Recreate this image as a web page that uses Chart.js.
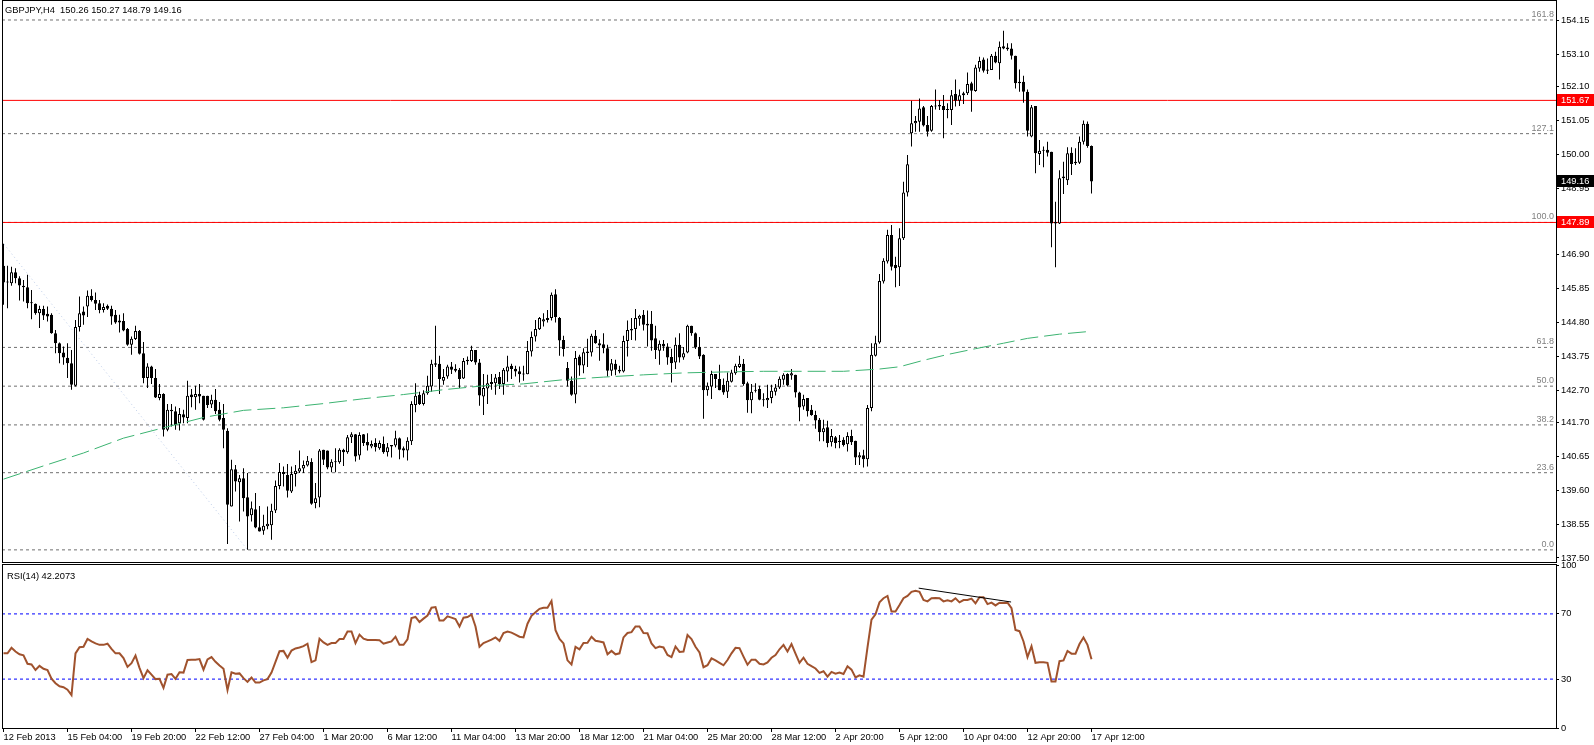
<!DOCTYPE html>
<html lang="en">
<head>
<meta charset="UTF-8">
<title>GBPJPY,H4</title>
<script src="https://cdn.jsdelivr.net/npm/chart.js"></script>
<style>
  body { margin: 0; background: #fff; width: 1594px; height: 745px; position: relative; overflow: hidden; }
  canvas { position: absolute; left: 0; }
  #main { top: 0; }
  #rsi { top: 554px; }
  .txt { position: absolute; z-index: 5; font: 9.3px "Liberation Sans", Arial, sans-serif; line-height: 14px; color: #000; white-space: pre; }
</style>
</head>
<body>
<canvas id="main" width="1594" height="564"></canvas>
<canvas id="rsi" width="1594" height="191"></canvas>
<div class="txt" style="left:5px; top:3px;">GBPJPY,H4  150.26 150.27 148.79 149.16</div>
<div class="txt" style="left:7px; top:569px;">RSI(14) 42.2073</div>

<script>
  // H4 bars (one value per bar)
  const openP = [
    146.55,146.03,146.01,146.35,146.16,145.93,145.88,145.39,145.37,145.08,
    145.21,145.06,145.03,144.46,144.15,143.86,143.70,143.53,142.83,144.65,
    145.13,145.29,145.62,145.49,145.39,145.18,145.31,145.22,145.03,144.85,
    144.84,144.59,144.10,144.28,144.53,143.84,143.07,143.43,143.07,142.45,
    142.58,141.47,142.09,142.04,141.67,141.95,141.83,142.56,142.48,142.58,
    142.52,142.52,142.25,142.40,142.09,141.83,141.44,139.09,140.25,139.84,
    139.97,139.38,138.82,139.01,138.45,138.34,138.48,138.51,138.97,139.73,
    140.16,140.07,139.56,140.10,140.18,140.27,140.36,140.47,139.20,139.37,
    140.85,140.83,140.30,140.46,140.46,140.85,140.77,141.24,141.33,140.67,
    141.33,141.09,140.95,141.06,140.90,141.03,140.77,141.00,140.98,141.21,
    140.90,140.83,141.11,142.24,142.55,142.27,142.60,142.81,143.53,143.51,
    142.99,143.12,143.43,143.36,143.33,143.06,143.64,143.60,143.94,143.55,
    142.50,142.75,142.89,142.91,143.10,142.89,143.27,143.45,143.36,143.28,
    143.20,143.19,143.89,144.36,144.58,144.82,144.93,144.93,145.67,144.93,
    144.25,143.38,142.99,142.56,143.74,143.46,143.85,143.86,144.38,144.15,
    144.12,143.99,143.30,143.51,143.33,143.27,144.22,144.54,144.59,144.91,
    145.03,144.75,144.75,144.30,143.92,144.13,144.05,143.72,143.55,144.10,
    143.71,143.86,144.69,144.46,144.03,143.79,142.69,142.81,143.20,143.04,
    142.86,142.65,142.96,143.22,143.41,143.51,142.91,142.38,142.68,142.73,
    142.40,142.38,142.45,142.65,142.78,143.02,143.20,143.15,143.17,142.62,
    142.19,142.45,142.09,141.93,141.78,141.39,141.55,141.08,141.24,141.13,
    141.16,141.02,141.28,141.13,140.61,140.68,140.56,142.14,143.76,144.17,
    146.06,146.68,147.50,146.57,146.50,147.40,148.82,150.65,150.96,151.01,
    151.46,150.91,150.73,151.50,151.53,151.50,151.40,151.37,151.87,151.66,
    151.83,151.89,152.20,151.96,152.66,152.94,152.63,152.61,153.05,152.82,
    153.35,153.31,153.28,153.05,152.25,152.25,151.94,150.55,151.50,150.01,
    150.11,150.14,150.08,147.86,147.86,149.26,149.20,150.05,149.77,149.74,
    150.39,150.95,150.26
  ];
  const highP = [
    147.23,146.55,146.52,146.47,146.22,146.11,146.27,145.80,145.38,145.31,
    145.31,145.29,145.08,144.56,144.17,144.05,144.15,143.94,144.87,145.60,
    145.29,145.78,145.82,145.72,145.49,145.39,145.35,145.31,145.18,145.03,
    145.08,144.62,144.36,144.69,144.56,144.19,143.53,143.45,143.35,142.89,
    142.60,142.27,142.27,142.19,142.14,142.09,142.99,142.73,142.83,142.89,
    142.52,142.52,142.55,142.73,142.33,142.27,141.52,140.54,140.38,140.07,
    140.28,140.13,139.25,139.51,139.11,138.84,139.09,139.18,139.90,140.44,
    140.33,140.41,140.33,140.38,140.83,140.52,140.66,140.59,139.82,140.87,
    140.85,140.83,140.56,140.90,140.90,140.88,141.31,141.39,141.34,141.39,
    141.34,141.36,141.14,141.21,141.14,141.26,141.06,141.00,141.44,141.23,
    140.95,141.24,142.35,142.91,142.65,142.69,143.14,143.64,144.69,143.76,
    143.35,143.48,143.57,143.50,143.38,143.69,143.74,144.07,143.94,143.66,
    143.20,143.17,143.20,143.20,143.26,143.38,143.76,143.51,143.45,143.43,
    143.45,144.22,144.51,144.87,144.96,145.08,145.18,145.72,145.82,144.96,
    144.38,143.57,143.12,143.91,143.79,143.99,144.29,144.44,144.56,144.27,
    144.46,144.10,143.66,143.64,143.45,144.38,144.85,144.93,145.21,145.03,
    145.18,145.16,145.15,144.69,144.23,144.25,144.15,143.98,144.33,144.46,
    144.03,144.72,144.69,144.48,144.34,143.81,142.93,143.30,143.20,143.48,
    143.06,143.24,143.33,143.51,143.76,143.66,142.96,142.89,142.91,142.83,
    142.60,142.86,142.86,142.89,143.12,143.22,143.22,143.35,143.17,142.65,
    142.55,142.45,142.24,142.06,141.83,141.78,141.75,141.49,141.28,141.31,
    141.24,141.39,141.47,141.13,140.77,140.85,142.24,144.15,144.38,146.29,
    146.78,147.66,147.81,146.83,147.71,149.15,149.98,151.66,151.19,151.73,
    151.50,151.19,151.53,152.01,151.68,151.84,151.58,151.99,152.32,152.01,
    151.94,152.53,152.25,152.77,153.02,153.00,152.97,153.11,153.18,153.49,
    153.83,153.44,153.44,153.05,152.63,152.43,152.01,151.53,151.50,150.44,
    150.24,150.39,150.08,148.53,149.51,149.77,150.22,150.22,150.19,150.55,
    151.05,151.02,150.27
  ];
  const lowP = [
    145.34,145.23,145.93,146.01,145.47,145.44,145.23,144.89,145.03,144.62,
    144.87,144.82,144.44,143.84,143.53,143.48,143.07,142.71,142.81,144.51,
    144.72,144.96,145.44,145.18,145.08,145.10,145.18,144.72,144.75,144.48,
    144.52,144.07,143.79,144.25,143.80,142.91,142.76,142.89,142.45,142.38,
    141.26,141.42,141.57,141.47,141.45,141.67,141.67,142.17,142.09,142.29,
    141.76,142.14,142.14,141.96,141.73,140.90,137.93,139.09,139.56,138.63,
    138.94,137.75,138.63,138.42,138.32,138.22,138.39,138.06,138.89,139.63,
    139.71,139.37,139.51,139.71,140.13,140.13,140.33,139.15,139.04,139.07,
    140.38,140.25,140.15,140.15,140.42,140.35,140.73,141.06,140.49,140.54,
    140.97,140.83,140.90,140.80,140.85,140.73,140.64,140.61,140.93,140.56,
    140.61,140.52,141.00,142.01,142.24,142.22,142.55,142.65,143.41,142.58,
    142.86,143.05,143.20,143.25,142.76,143.04,143.48,143.57,143.48,142.21,
    141.93,142.27,142.71,142.55,142.73,142.55,142.96,143.04,143.12,142.93,
    142.99,143.19,143.74,144.20,144.56,144.67,144.79,144.85,144.79,143.76,
    143.74,142.81,142.52,142.29,143.14,143.22,143.41,143.74,144.13,143.61,
    143.84,143.12,143.14,143.16,143.22,143.24,143.74,144.25,144.23,144.69,
    144.54,144.05,143.92,143.66,143.48,143.92,143.48,142.93,143.35,143.55,
    143.64,143.84,144.38,143.97,143.66,141.81,142.52,142.42,142.76,142.69,
    142.55,142.45,142.93,143.17,143.38,142.83,142.00,141.98,142.62,142.38,
    142.19,142.14,142.29,142.53,142.73,142.86,142.81,143.02,142.47,141.73,
    142.09,141.88,141.90,141.50,141.11,141.11,140.93,140.95,140.90,140.90,
    140.95,140.80,141.00,140.38,140.38,140.30,140.33,142.04,143.74,144.13,
    146.00,146.62,146.40,145.88,145.92,147.35,148.69,150.24,150.70,150.70,
    150.86,150.55,150.70,151.39,151.37,150.50,151.12,150.91,151.48,151.50,
    151.56,151.84,151.32,151.94,152.56,152.53,152.49,152.61,152.82,152.32,
    153.25,153.21,152.94,152.04,151.94,151.60,150.55,150.53,149.41,149.67,
    149.60,149.93,147.12,146.50,147.84,148.77,149.05,149.36,149.67,149.70,
    150.30,150.20,148.79
  ];
  const closeP = [
    146.03,146.06,146.35,146.16,145.94,145.88,145.39,145.41,145.08,145.21,
    145.01,144.98,144.46,144.15,143.84,143.71,143.53,142.86,144.65,145.08,
    145.01,145.62,145.49,145.37,145.18,145.27,145.22,144.98,144.79,144.79,
    144.54,144.10,144.29,144.53,143.82,143.07,143.43,143.07,142.47,142.58,
    141.47,142.09,142.04,141.62,141.96,141.85,142.52,142.48,142.58,142.50,
    141.78,142.24,142.40,142.04,141.78,141.47,139.15,140.25,139.87,139.97,
    139.35,138.78,139.04,138.44,138.32,138.50,138.56,138.96,139.73,140.16,
    140.10,139.58,140.10,140.20,140.28,140.38,140.51,139.18,139.35,140.83,
    140.54,140.30,140.48,140.48,140.85,140.77,141.24,141.33,140.64,141.31,
    141.06,140.98,141.03,140.93,141.06,140.77,140.93,140.95,141.21,140.85,
    140.83,141.13,142.27,142.52,142.27,142.60,142.83,143.51,143.48,143.04,
    143.10,143.43,143.33,143.30,143.04,143.60,143.59,143.94,143.55,142.53,
    142.76,142.91,142.95,143.09,142.89,143.33,143.43,143.35,143.27,143.19,
    143.18,143.91,144.34,144.59,144.93,144.89,144.87,145.65,144.96,144.23,
    143.97,142.99,142.55,143.69,143.46,143.87,143.89,144.38,144.15,144.08,
    143.99,143.30,143.53,143.33,143.27,144.22,144.56,144.59,144.93,145.00,
    144.72,144.70,144.23,143.94,144.13,144.05,143.71,143.53,144.10,143.71,
    143.84,144.69,144.46,144.02,143.74,142.69,142.83,143.20,143.04,142.69,
    142.62,142.99,143.24,143.45,143.51,142.89,142.38,142.65,142.70,142.40,
    142.38,142.45,142.68,142.78,143.05,143.17,142.84,143.22,142.62,142.16,
    142.42,142.04,141.93,141.76,141.39,141.52,141.06,141.28,141.06,141.09,
    141.00,141.28,141.08,140.61,140.68,140.56,142.14,143.79,144.15,146.08,
    146.70,147.50,146.52,146.47,147.40,148.82,149.69,150.96,151.03,151.42,
    150.89,150.70,151.50,151.48,151.48,151.37,151.37,151.83,151.66,151.83,
    151.89,152.18,151.97,152.69,152.89,152.59,152.59,153.05,152.84,153.33,
    153.28,153.25,153.05,152.20,152.20,151.94,150.73,151.46,150.03,150.11,
    150.13,150.05,147.86,147.90,149.26,149.31,150.03,149.70,149.72,150.39,
    150.95,150.26,149.16
  ];
  const rsiValues = [
    45.8,45.8,49.2,46.9,45.2,44.6,39.4,39.0,35.6,38.1,
    36.3,35.6,30.2,27.5,25.6,25.0,23.5,20.2,45.8,49.6,
    49.8,54.6,53.1,51.9,51.0,51.0,51.7,48.5,45.8,45.8,
    42.9,37.5,39.8,44.4,36.9,30.6,35.4,32.7,30.0,30.2,
    24.6,32.7,33.1,30.2,34.2,34.0,41.7,41.9,41.9,42.3,
    35.8,42.1,43.5,40.6,38.3,36.3,23.3,34.2,33.3,33.5,
    30.6,28.3,31.0,27.9,27.9,29.2,30.0,34.0,40.6,47.1,
    47.3,43.1,47.5,48.8,49.4,50.2,51.7,40.4,41.5,54.8,
    52.5,51.0,52.1,52.1,54.6,54.6,59.2,59.2,52.1,57.3,
    54.8,54.0,54.0,54.0,53.8,51.7,52.5,53.1,56.0,51.0,
    51.0,54.4,67.5,68.1,65.0,67.1,69.0,73.8,74.2,66.0,
    66.0,68.5,67.7,66.9,62.3,67.7,68.1,69.6,62.3,49.8,
    52.1,53.1,54.2,55.6,53.5,58.3,59.2,58.5,57.3,56.0,
    55.6,64.0,68.8,71.0,73.1,73.8,73.8,77.9,60.0,54.6,
    51.9,41.5,39.0,49.8,48.3,52.1,52.3,56.0,53.5,53.1,
    52.5,45.2,47.3,45.2,45.8,55.6,58.3,58.8,62.3,62.3,
    58.3,58.1,51.9,49.0,50.0,49.4,44.8,43.5,50.0,46.7,
    46.9,57.1,54.6,49.8,46.3,37.3,38.5,42.7,41.5,40.0,
    38.5,41.7,45.8,49.2,49.0,43.8,38.8,41.9,41.9,39.4,
    39.0,40.2,43.1,44.8,48.3,51.0,46.9,51.5,45.6,40.0,
    43.1,39.4,37.9,36.5,33.8,34.8,31.5,34.4,33.3,34.0,
    33.1,37.9,35.8,31.0,32.3,31.5,49.4,66.5,69.8,77.1,
    79.6,81.0,71.5,71.5,75.4,79.6,81.0,83.5,84.2,83.5,
    78.5,77.7,79.6,79.8,79.6,77.7,78.3,77.7,79.6,77.1,
    78.5,78.5,79.4,76.5,80.2,80.2,76.0,76.9,75.2,76.9,
    76.7,76.9,73.5,60.2,59.4,53.1,43.5,50.2,40.0,40.4,
    40.4,40.0,28.5,28.5,41.0,41.5,47.3,45.6,45.6,51.5,
    55.5,51.0,42.2
  ];

  // moving average, read at some bars
  const maBars   = [0, 10, 20, 30, 40, 50, 60, 70, 80, 90, 100, 110, 120, 130, 140, 150, 160, 170, 180, 190, 200, 210, 219, 224, 230, 236, 243, 250, 256, 264, 272];
  const maValues = [139.94, 140.35, 140.75, 141.21, 141.53, 141.85, 142.07, 142.15, 142.28, 142.43, 142.56, 142.71, 142.83, 142.89, 143.02, 143.10, 143.17, 143.23, 143.26, 143.28, 143.28, 143.28, 143.35, 143.42, 143.62, 143.80, 143.98, 144.15, 144.30, 144.43, 144.52];

  const dateLabels = ['12 Feb 2013', '15 Feb 04:00', '19 Feb 20:00', '22 Feb 12:00', '27 Feb 04:00', '1 Mar 20:00', '6 Mar 12:00', '11 Mar 04:00', '13 Mar 20:00', '18 Mar 12:00', '21 Mar 04:00', '25 Mar 20:00', '28 Mar 12:00', '2 Apr 20:00', '5 Apr 12:00', '10 Apr 04:00', '12 Apr 20:00', '17 Apr 12:00'];
  const dateTickBars = [0, 16, 32, 48, 64, 80, 96, 112, 128, 144, 160, 176, 192, 208, 224, 240, 256, 272];
  const priceTicks = [137.50, 138.55, 139.60, 140.65, 141.70, 142.70, 143.75, 144.80, 145.85, 146.90, 147.90, 148.95, 150.00, 151.05, 152.10, 153.10, 154.15];
  const rsiTicks = [0, 30, 70, 100];

  const fibNames  = ['0.0', '23.6', '38.2', '50.0', '61.8', '100.0', '127.1', '161.8'];
  const fibPrices = [137.75, 140.14, 141.62, 142.82, 144.02, 147.89, 150.64, 154.16];
  const fibTrend  = [[-4.2, 147.89], [61, 137.75]];
  const redLevels = [151.67, 147.89];
  const rsiLevels = [30, 70];
  const rsiTrend  = [[228.8, 85.8], [251.9, 77.3]];

  const FONT = '"Liberation Sans", Arial, sans-serif';
  const xMin = -0.375, xMax = 388.125;   // 4 px per bar
  const bars = closeP.map((c, i) => i);
  const hline = v => [{x: xMin, y: v}, {x: xMax, y: v}];

  // box around each plot area
  const frame = {
    id: 'frame',
    afterDraw(chart) {
      const {ctx, chartArea: a} = chart;
      ctx.save();
      ctx.strokeStyle = '#000';
      ctx.lineWidth = 1;
      ctx.strokeRect(a.left + 0.5, a.top - 0.5, a.right - a.left, a.bottom - a.top + 1);
      ctx.restore();
    }
  };

  // fibo level names + price boxes on the right scale
  const priceMarks = {
    id: 'priceMarks',
    afterDraw(chart) {
      const {ctx, chartArea: a, scales: {y}} = chart;
      ctx.save();
      ctx.font = '9px ' + FONT;
      ctx.fillStyle = '#808080';
      ctx.textAlign = 'right';
      ctx.textBaseline = 'bottom';
      fibPrices.forEach((p, k) => {
        ctx.fillText(fibNames[k], a.right - 2, Math.round(y.getPixelForValue(p)) - 1);
      });
      const boxes = redLevels.map(v => [v, '#ff0000']).concat([[closeP[closeP.length - 1], '#000']]);
      ctx.font = '9.3px ' + FONT;
      ctx.textAlign = 'left';
      ctx.textBaseline = 'middle';
      boxes.forEach(([v, col]) => {
        const py = Math.round(y.getPixelForValue(v));
        ctx.fillStyle = col;
        ctx.fillRect(a.right + 1, py - 6, 38, 12);
        ctx.fillStyle = '#fff';
        ctx.fillText(v.toFixed(2), a.right + 5, py + 0.5);
      });
      ctx.restore();
    }
  };

  const tickFont = {family: FONT, size: 9.3};
  // keep the plot area where it is: no extra room for end labels
  const noPad = s => { s.paddingTop = 0; s.paddingBottom = 0; };

  new Chart(document.getElementById('main'), {
    type: 'bar',
    data: {
      datasets: [
        ...fibPrices.map(p => ({type: 'line', data: hline(p), borderColor: '#707070', borderWidth: 1, borderDash: [3, 3], pointRadius: 0, order: 10})),
        ...redLevels.map(p => ({type: 'line', data: hline(p), borderColor: '#ff0000', borderWidth: 1, pointRadius: 0, order: 9})),
        {type: 'line', data: fibTrend.map(([x, y]) => ({x, y})), borderColor: 'rgba(170,190,225,0.8)', borderWidth: 1, borderDash: [1, 3], pointRadius: 0, order: 8},
        {
          data: bars.map(i => ({x: i, y: [lowP[i], highP[i]]})),
          backgroundColor: '#000', borderWidth: 0,
          barThickness: 1, grouped: false, inflateAmount: 0, order: 5
        },
        {
          data: bars.map(i => ({x: i, y: [openP[i], closeP[i]]})),
          backgroundColor: bars.map(i => closeP[i] >= openP[i] ? '#fff' : '#000'),
          borderColor: '#000', borderWidth: 1, borderSkipped: false,
          barThickness: 3, grouped: false, minBarLength: 1, inflateAmount: 0, order: 4
        },
        {type: 'line', data: maBars.map((b, k) => ({x: b, y: maValues[k]})), borderColor: '#3cb371', borderWidth: 1, borderDash: [18, 6], pointRadius: 0, order: 3}
      ]
    },
    options: {
      responsive: false,
      animation: false,
      events: [],
      layout: {padding: {left: 2, top: 1, right: 0, bottom: 2}},
      plugins: {legend: {display: false}, tooltip: {enabled: false}},
      scales: {
        x: {type: 'linear', min: xMin, max: xMax, offset: false, grid: {offset: false}, display: false},
        y: {
          type: 'linear', position: 'right', min: 137.374, max: 154.748,
          afterBuildTicks: s => { s.ticks = priceTicks.map(v => ({value: v})); },
          afterFit: s => { s.width = 38; noPad(s); },
          ticks: {autoSkip: false, color: '#000', font: tickFont, padding: 2, callback: v => v.toFixed(2)},
          grid: {drawOnChartArea: false, tickLength: 3, color: '#000'},
          border: {color: '#000'}
        }
      }
    },
    plugins: [frame, priceMarks]
  });

  new Chart(document.getElementById('rsi'), {
    type: 'line',
    data: {
      datasets: [
        ...rsiLevels.map(v => ({data: hline(v), borderColor: '#0000ff', borderWidth: 1, borderDash: [3, 3], pointRadius: 0, order: 5})),
        {data: rsiValues.map((v, i) => ({x: i, y: v})), borderColor: '#a0522d', borderWidth: 2, pointRadius: 0, order: 2},
        {data: rsiTrend.map(([x, y]) => ({x, y})), borderColor: '#000', borderWidth: 1, pointRadius: 0, order: 1}
      ]
    },
    options: {
      responsive: false,
      animation: false,
      events: [],
      layout: {padding: {left: 2, top: 11, right: 0, bottom: 0}},
      plugins: {legend: {display: false}, tooltip: {enabled: false}},
      scales: {
        x: {
          type: 'linear', min: xMin, max: xMax, offset: false,
          afterBuildTicks: s => { s.ticks = dateTickBars.map(v => ({value: v})); },
          afterFit: s => { s.height = 17; },
          ticks: {autoSkip: false, maxRotation: 0, align: 'start', color: '#000', font: tickFont, padding: 0, callback: (v, k) => dateLabels[k]},
          grid: {drawOnChartArea: false, tickLength: 4, color: '#000'},
          border: {color: '#000'}
        },
        y: {
          type: 'linear', position: 'right', min: 0, max: 100,
          afterBuildTicks: s => { s.ticks = rsiTicks.map(v => ({value: v})); },
          afterFit: s => { s.width = 38; noPad(s); },
          ticks: {autoSkip: false, color: '#000', font: tickFont, padding: 2},
          grid: {drawOnChartArea: false, tickLength: 3, color: '#000'},
          border: {color: '#000'}
        }
      }
    },
    plugins: [frame]
  });
</script>
</body>
</html>
